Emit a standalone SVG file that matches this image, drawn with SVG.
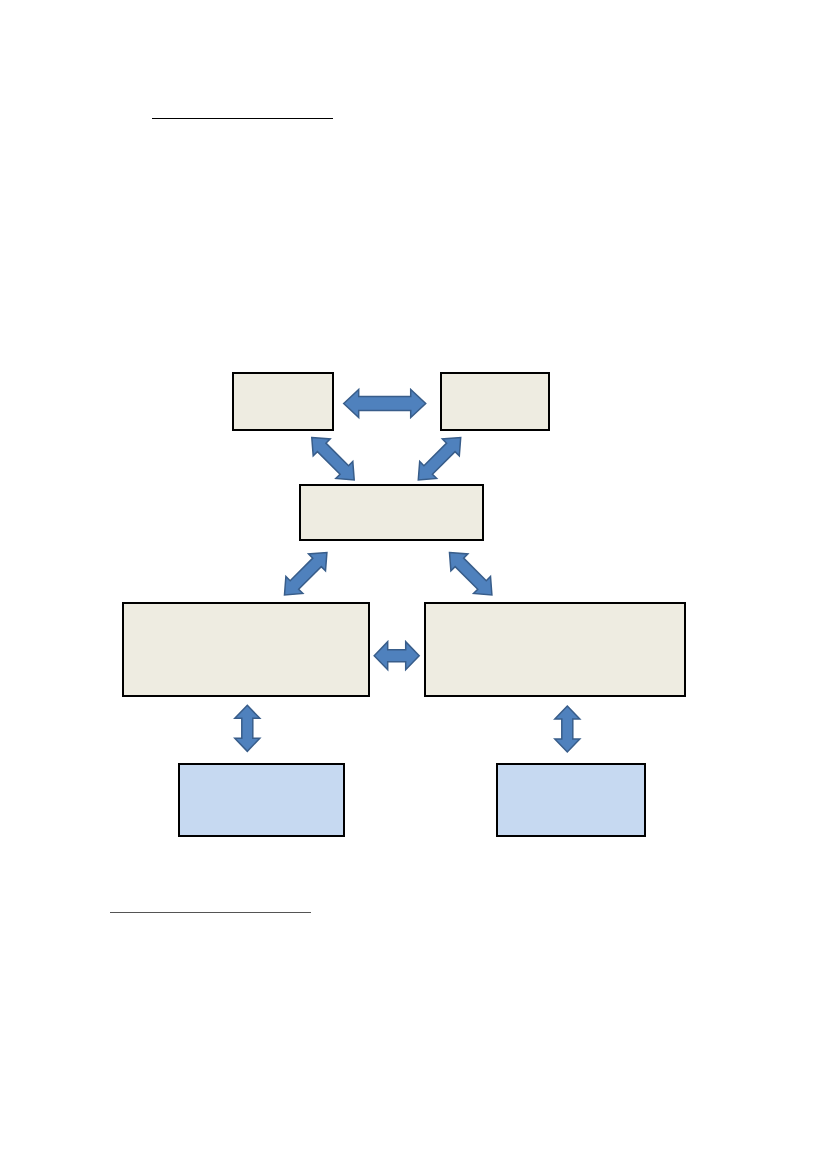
<svg xmlns="http://www.w3.org/2000/svg" width="827" height="1169" viewBox="0 0 827 1169">
<style>
.box{fill:#EEECE1;stroke:#000;stroke-width:2}
.blue{fill:#C6D9F1;stroke:#000;stroke-width:2}
.arr{fill:#4F81BD;stroke:#385D8A;stroke-width:1.5;stroke-linejoin:miter}
</style>
<rect width="827" height="1169" fill="#fff"/>
<line x1="152" y1="118.5" x2="333" y2="118.5" stroke="#000" stroke-width="1.2"/>
<line x1="110" y1="912.5" x2="311" y2="912.5" stroke="#555" stroke-width="1.2"/>
<g id="nodeA"><rect class="box" x="233" y="373" width="100" height="57"/></g>
<g id="nodeB"><rect class="box" x="441" y="373" width="108" height="57"/></g>
<g id="nodeC"><rect class="box" x="300" y="485" width="183" height="55"/></g>
<g id="nodeD"><rect class="box" x="123" y="603" width="246" height="93"/></g>
<g id="nodeE"><rect class="box" x="425" y="603" width="260" height="93"/></g>
<g id="nodeF"><rect class="blue" x="179" y="764" width="165" height="72"/></g>
<g id="nodeG"><rect class="blue" x="497" y="764" width="148" height="72"/></g>
<g id="connectors">
<path class="arr" transform="translate(384.7,403.5)" d="M-41,0 L-26,-14 L-26,-7 L26,-7 L26,-14 L41,0 L26,14 L26,7 L-26,7 L-26,14 Z"/>
<path class="arr" transform="translate(333,458.7) rotate(45)" d="M-30,0 L-16,-12 L-16,-6 L16,-6 L16,-12 L30,0 L16,12 L16,6 L-16,6 L-16,12 Z"/>
<path class="arr" transform="translate(439.5,458.7) rotate(-45)" d="M-30,0 L-16,-12 L-16,-6 L16,-6 L16,-12 L30,0 L16,12 L16,6 L-16,6 L-16,12 Z"/>
<path class="arr" transform="translate(305.7,573.7) rotate(-45)" d="M-30,0 L-16,-12 L-16,-6 L16,-6 L16,-12 L30,0 L16,12 L16,6 L-16,6 L-16,12 Z"/>
<path class="arr" transform="translate(470.7,573.7) rotate(45)" d="M-30,0 L-16,-12 L-16,-6 L16,-6 L16,-12 L30,0 L16,12 L16,6 L-16,6 L-16,12 Z"/>
<path class="arr" transform="translate(396.7,655.7)" d="M-22.5,0 L-9,-14 L-9,-6 L9,-6 L9,-14 L22.5,0 L9,14 L9,6 L-9,6 L-9,14 Z"/>
<path class="arr" transform="translate(247.3,728.3) rotate(90)" d="M-23,0 L-10,-12.5 L-10,-5.5 L10,-5.5 L10,-12.5 L23,0 L10,12.5 L10,5.5 L-10,5.5 L-10,12.5 Z"/>
<path class="arr" transform="translate(567.3,729) rotate(90)" d="M-23,0 L-10,-12.5 L-10,-5.5 L10,-5.5 L10,-12.5 L23,0 L10,12.5 L10,5.5 L-10,5.5 L-10,12.5 Z"/>
</g>
</svg>
